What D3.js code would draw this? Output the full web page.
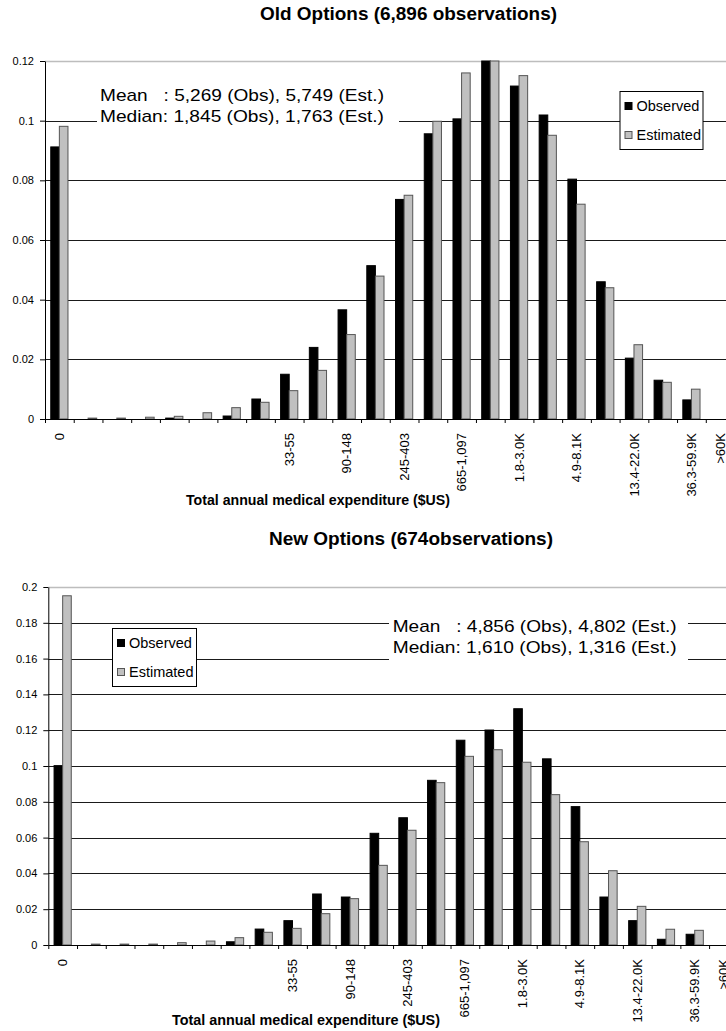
<!DOCTYPE html>
<html>
<head>
<meta charset="utf-8">
<script src="https://cdn.jsdelivr.net/npm/d3@7/dist/d3.min.js"></script>
<style>
body { margin: 0; background: #fff; }
text { font-family: "Liberation Sans", Arial, sans-serif; fill: #000; }
</style>
</head>
<body>
<div id="chart"></div>
<script>
// DATA
const tickLabels = ["0", "", "", "", "", "", "", "", "33-55", "", "90-148", "", "245-403", "",
                    "665-1,097", "", "1.8-3.0K", "", "4.9-8.1K", "", "13.4-22.0K", "", "36.3-59.9K", ">60K"];
const seriesNames = ["Observed", "Estimated"];

const oldObserved  = [0.0912, 0, 0, 0, 0.0003, 0, 0.0010, 0.0067, 0.0150, 0.0240, 0.0366, 0.0514,
                      0.0736, 0.0956, 0.1006, 0.1240, 0.1116, 0.1019, 0.0804, 0.0460, 0.0204, 0.0130, 0.0064, 0];
const oldEstimated = [0.0981, 0.0003, 0.0003, 0.0006, 0.0009, 0.0021, 0.0038, 0.0056, 0.0095, 0.0163, 0.0283, 0.0479,
                      0.0750, 0.0998, 0.1160, 0.1220, 0.1151, 0.0951, 0.0720, 0.0440, 0.0249, 0.0123, 0.0100, 0];
const newObserved  = [0.1002, 0, 0, 0, 0, 0, 0.0018, 0.0089, 0.0136, 0.0285, 0.0268, 0.0624,
                      0.0711, 0.0920, 0.1144, 0.1201, 0.1320, 0.1040, 0.0773, 0.0268, 0.0136, 0.0032, 0.0060, 0];
const newEstimated = [0.1951, 0.0005, 0.0005, 0.0005, 0.0013, 0.0022, 0.0041, 0.0071, 0.0093, 0.0175, 0.0259, 0.0445,
                      0.0641, 0.0907, 0.1054, 0.1091, 0.1021, 0.0840, 0.0577, 0.0415, 0.0216, 0.0088, 0.0082, 0];

const oldYTicks = [0, 0.02, 0.04, 0.06, 0.08, 0.1, 0.12];
const newYTicks = [0, 0.02, 0.04, 0.06, 0.08, 0.1, 0.12, 0.14, 0.16, 0.18, 0.2];

const oldTitle = "Old Options (6,896 observations)";
const newTitle = "New Options (674observations)";
const oldStats = ["Mean   : 5,269 (Obs), 5,749 (Est.)", "Median: 1,845 (Obs), 1,763 (Est.)"];
const newStats = ["Mean   : 4,856 (Obs), 4,802 (Est.)", "Median: 1,610 (Obs), 1,316 (Est.)"];
const xTitle = "Total annual medical expenditure ($US)";

// CANVAS
const WIDTH = 726, HEIGHT = 1031;
const STEP = 28.73;
const svg = d3.select("#chart").append("svg")
  .attr("width", WIDTH)
  .attr("height", HEIGHT);

const COLORS = { Observed: "#000", Estimated: "#c0c0c0" };
const STROKES = { Observed: "#000", Estimated: "#555" };

function drawChart(o) {
  const g = svg.append("g");
  const n = tickLabels.length;

  const x = d3.scaleBand().domain(d3.range(n))
    .range([o.left, o.left + n * STEP]).paddingInner(0).paddingOuter(0);
  const xSub = d3.scaleBand().domain(seriesNames)
    .range([0, x.bandwidth()]).paddingInner(0).paddingOuter(0.67);
  const y = d3.scaleLinear().domain([0, o.yMax])
    .range([o.bottom, o.top]).clamp(true);

  // GRID
  g.append("g").selectAll("line")
    .data(o.yTicks.filter(d => d > 0))
    .join("line")
    .attr("x1", o.left).attr("x2", WIDTH)
    .attr("y1", d => Math.round(y(d)) + 0.5).attr("y2", d => Math.round(y(d)) + 0.5)
    .attr("stroke", d => d === o.yMax ? "#bdbdbd" : "#1a1a1a")
    .attr("stroke-width", d => d === o.yMax ? 1.5 : 1);

  // BARS
  const rows = d3.range(n).map(i => ({ i, Observed: o.obs[i], Estimated: o.est[i] }));
  g.append("g").selectAll("g")
    .data(rows)
    .join("g")
    .attr("transform", d => `translate(${x(d.i)},0)`)
    .selectAll("rect")
    .data(d => seriesNames.map(k => ({ k, v: d[k] })).filter(e => e.v > 0))
    .join("rect")
    .attr("x", d => xSub(d.k))
    .attr("width", xSub.bandwidth())
    .attr("y", d => y(d.v))
    .attr("height", d => Math.max(1, o.bottom - y(d.v)))
    .attr("fill", d => COLORS[d.k])
    .attr("stroke", d => STROKES[d.k])
    .attr("stroke-width", 1);

  // AXES
  const gy = g.append("g")
    .attr("transform", `translate(${o.left},0)`)
    .call(d3.axisLeft(y).tickValues(o.yTicks).tickSize(5).tickSizeOuter(0).tickPadding(6)
      .tickFormat(d => String(d)));
  gy.select(".domain").attr("stroke", "#000");
  gy.selectAll(".tick line").attr("stroke", "#000");
  gy.selectAll("text").attr("font-size", 11).attr("font-family", null);

  const xEdges = d3.scaleLinear().domain([0, n]).range([o.left, o.left + n * STEP]);
  const gx = g.append("g")
    .attr("transform", `translate(0,${o.bottom})`)
    .call(d3.axisBottom(xEdges).tickValues(d3.range(n + 1)).tickSize(4).tickSizeOuter(0).tickFormat(""));
  gx.select(".domain").attr("stroke", "#000");
  gx.selectAll(".tick line").attr("stroke", "#000");

  g.append("g").selectAll("text")
    .data(d3.range(n).filter(i => tickLabels[i] !== ""))
    .join("text")
    .attr("transform", i => `translate(${x(i) + x.bandwidth() / 2},${o.bottom + 14}) rotate(-90)`)
    .attr("text-anchor", "end")
    .attr("dy", "0.35em")
    .attr("font-size", 13)
    .text(i => tickLabels[i]);

  // TITLES
  g.append("text")
    .attr("x", o.titleX).attr("y", o.titleY)
    .attr("font-size", 18).attr("font-weight", "bold")
    .attr("textLength", o.titleLen).attr("lengthAdjust", "spacingAndGlyphs")
    .text(o.title);

  g.append("text")
    .attr("x", o.xTitleX).attr("y", o.xTitleY)
    .attr("font-size", 14).attr("font-weight", "bold")
    .attr("textLength", o.xTitleLen).attr("lengthAdjust", "spacingAndGlyphs")
    .text(xTitle);

  // STATS BOX
  g.append("rect")
    .attr("x", o.stats.x0).attr("y", o.stats.y0)
    .attr("width", o.stats.x1 - o.stats.x0).attr("height", o.stats.y1 - o.stats.y0)
    .attr("fill", "#fff");
  g.append("g").selectAll("text")
    .data(o.statsText)
    .join("text")
    .attr("x", o.stats.tx)
    .attr("y", (d, i) => o.stats.ty + i * 21.5)
    .attr("font-size", 17)
    .attr("textLength", 284).attr("lengthAdjust", "spacingAndGlyphs")
    .style("white-space", "pre")
    .text(d => d);

  // LEGEND
  const L = o.legend;
  const gl = g.append("g").attr("transform", `translate(${L.x},${L.y})`);
  gl.append("rect")
    .attr("x", 0.5).attr("y", 0.5).attr("width", L.w).attr("height", L.h)
    .attr("fill", "#fff").attr("stroke", "#000").attr("stroke-width", 1);
  const items = gl.selectAll("g.item").data(seriesNames).join("g")
    .attr("class", "item")
    .attr("transform", (d, i) => `translate(0,${i * 29})`);
  items.append("rect")
    .attr("x", 5.5).attr("y", 11.5).attr("width", 7).attr("height", 7)
    .attr("fill", d => COLORS[d]).attr("stroke", d => STROKES[d]);
  items.append("text")
    .attr("x", 17).attr("y", 20)
    .attr("font-size", 14.5)
    .text(d => d);
}

drawChart({
  left: 45, top: 61, bottom: 419, yMax: 0.12, yTicks: oldYTicks,
  obs: oldObserved, est: oldEstimated,
  title: oldTitle, titleX: 260, titleY: 20, titleLen: 297,
  xTitleX: 186, xTitleY: 505, xTitleLen: 264,
  statsText: oldStats,
  stats: { x0: 97, x1: 399, y0: 83, y1: 128, tx: 100, ty: 100.5 },
  legend: { x: 619.5, y: 91, w: 83, h: 58 }
});

drawChart({
  left: 48.3, top: 587, bottom: 945, yMax: 0.2, yTicks: newYTicks,
  obs: newObserved, est: newEstimated,
  title: newTitle, titleX: 269, titleY: 545, titleLen: 284,
  xTitleX: 172, xTitleY: 1025, xTitleLen: 268,
  statsText: newStats,
  stats: { x0: 389, x1: 688, y0: 612, y1: 662, tx: 392.7, ty: 631.7 },
  legend: { x: 112, y: 628, w: 84, h: 58 }
});
</script>
</body>
</html>
